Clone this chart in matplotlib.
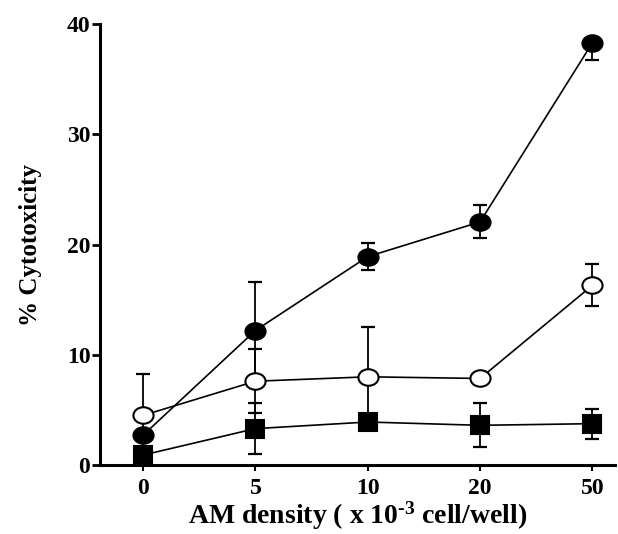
import matplotlib
matplotlib.use('Agg')
import matplotlib.pyplot as plt
from matplotlib.path import Path
from matplotlib.transforms import Affine2D

plt.rcParams['font.family'] = ['Liberation Serif', 'DejaVu Serif']
plt.rcParams['font.weight'] = 'bold'
plt.rcParams['mathtext.default'] = 'regular'

# AM density categories (x 10^-3 cell/well)
densities = ['0', '5', '10', '20', '50']

# filled circles
filled_mean = [2.7, 12.2, 18.9, 22.05, 38.3]
filled_err_lo = [0, 4.4, 1.25, 1.5, 1.55]
filled_err_hi = [0, 4.4, 1.25, 1.5, 0]

# open circles
open_mean = [4.5, 7.6, 8.0, 7.85, 16.3]
open_err_lo = [3.8, 2.9, 4.5, 0, 1.9]
open_err_hi = [3.8, 2.9, 4.5, 0, 1.9]

# filled squares
square_mean = [0.9, 3.3, 3.9, 3.6, 3.75]
square_err_lo = [0, 2.3, 0, 2.0, 1.35]
square_err_hi = [0, 2.3, 0, 2.0, 1.35]

y_ticks = [0, 10, 20, 30, 40]


def main():
    # the printed circles are slightly squashed ellipses
    ellipse = Path.unit_circle().transformed(Affine2D().scale(1.0, 0.82))

    fig = plt.figure(figsize=(6.18, 5.34), dpi=100)
    ax = fig.add_axes([0.1618, 0.1292, 0.8332, 0.8258])
    x = list(range(len(densities)))

    series = [
        (filled_mean, filled_err_lo, filled_err_hi, ellipse, 'black', 14.5),
        (open_mean, open_err_lo, open_err_hi, ellipse, 'white', 14.5),
        (square_mean, square_err_lo, square_err_hi, 's', 'black', 12.5),
    ]
    for mean, lo, hi, mk, fc, ms in series:
        ax.errorbar(x, mean, yerr=[lo, hi], fmt='none', ecolor='black',
                    elinewidth=1.3, capsize=5, capthick=1.6, zorder=2, clip_on=False)
        ax.plot(x, mean, '-', color='black', lw=1.2, zorder=3, clip_on=False)
        ax.plot(x, mean, linestyle='none', marker=mk, ms=ms, mfc=fc, mec='black',
                mew=1.5, zorder=4, clip_on=False)

    ax.set_xlim(-0.383, 4.2)
    ax.set_ylim(0, 40)
    ax.set_xticks(x)
    ax.set_xticklabels(densities)
    ax.set_yticks(y_ticks)

    for side in ['top', 'right']:
        ax.spines[side].set_visible(False)
    for side in ['left', 'bottom']:
        ax.spines[side].set_linewidth(2.2)

    ax.tick_params(axis='y', direction='out', length=6, width=2, labelsize=17, pad=1)
    ax.tick_params(axis='x', direction='out', length=4, width=1.5, labelsize=17, pad=5)
    for lbl in ax.get_xticklabels() + ax.get_yticklabels():
        lbl.set_fontweight('bold')

    ax.set_xlabel('AM density ( x 10$^{\u20103}$ cell/well)', fontsize=20, fontweight='bold', labelpad=1)
    ax.set_ylabel('% Cytotoxicity', fontsize=18, fontweight='bold', labelpad=18)

    plt.savefig('out.png', dpi=100)


if __name__ == '__main__':
    main()
